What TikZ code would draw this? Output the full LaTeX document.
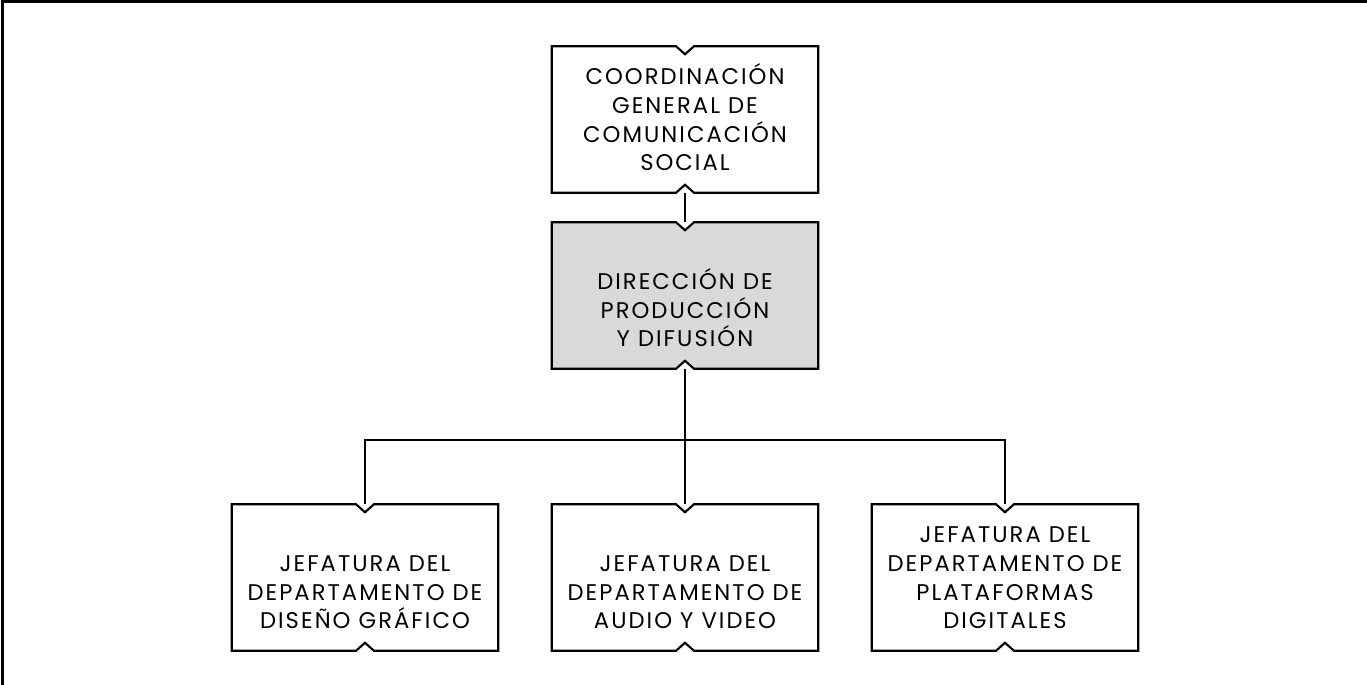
\documentclass[tikz,border=0pt]{standalone}
\usepackage{fontspec}
\setmainfont{Poppins}[LetterSpace=9]
\usetikzlibrary{calc}
\pgfdeclarelayer{background}
\pgfsetlayers{background,main}
\definecolor{dirgray}{HTML}{D9D9D9}
\newlength{\boxtexth}\setlength{\boxtexth}{104pt}
\newlength{\boxtextw}\setlength{\boxtextw}{198pt}
\newcommand{\boxlines}[1]{\parbox[c][\boxtexth][b]{\boxtextw}{%
  \centering\fontsize{17}{21.5}\selectfont #1\par\vspace{13.5pt}}}
\tikzset{
  orgbox/.style = {inner sep=0pt, minimum width=199.5pt, minimum height=109.5pt},
  link/.style   = {line width=1.6pt},
}

\begin{document}
\begin{tikzpicture}[x=0.75pt, y=-0.75pt]
\useasboundingbox (0,0) rectangle (1367,685);
% ---- page frame (left and top only) ----
\draw[line width=2.2pt] (2.5,685) -- (2.5,1.5) -- (1367,1.5);
% ---- boxes ----
\node[orgbox] (coord) at (685,119.5)
  {\boxlines{COORDINACIÓN\\GENERAL DE\\COMUNICACIÓN\\SOCIAL}};
\node[orgbox] (dir) at (685,295.5)
  {\boxlines{DIRECCIÓN DE\\PRODUCCIÓN\\Y DIFUSIÓN}};
\node[orgbox] (grafico) at (365,577.5)
  {\boxlines{JEFATURA DEL\\DEPARTAMENTO DE\\DISEÑO GRÁFICO}};
\node[orgbox] (audio) at (685,577.5)
  {\boxlines{JEFATURA DEL\\DEPARTAMENTO DE\\AUDIO Y VIDEO}};
\node[orgbox] (plataf) at (1005,577.5)
  {\boxlines{JEFATURA DEL\\DEPARTAMENTO DE\\PLATAFORMAS\\DIGITALES}};
% ---- notched outlines ----
\begin{pgfonlayer}{background}
\foreach \n/\f in {coord/white, dir/dirgray, grafico/white, audio/white, plataf/white}
  \filldraw[link, fill=\f, line join=miter]
    (\n.north west) -- ($(\n.north)+(-9,0)$) -- ($(\n.north)+(0,8)$)
    -- ($(\n.north)+(9,0)$) -- (\n.north east) -- (\n.south east)
    -- ($(\n.south)+(9,0)$) -- ($(\n.south)+(0,-8)$) -- ($(\n.south)+(-9,0)$)
    -- (\n.south west) -- cycle;
\end{pgfonlayer}
% ---- connectors ----
\coordinate (bar) at (685,440);
\draw[link] (coord.south) -- (dir.north);
\draw[line width=2pt] (dir.south) -- (bar);
\draw[link] (grafico.north) |- (bar) -| (plataf.north);
\draw[link] (bar) -- (audio.north);
\end{tikzpicture}
\end{document}
